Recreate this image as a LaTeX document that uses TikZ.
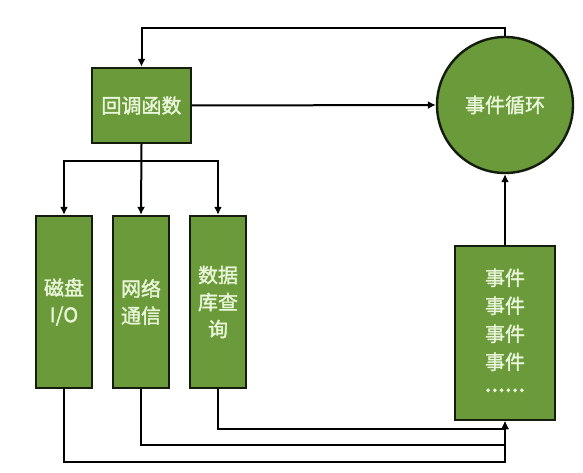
\documentclass[tikz,border=0pt]{standalone}
\usepackage{fontspec}
\setmainfont{Noto Sans CJK SC}[FakeBold=1.6]
\newfontfamily\dotsfont{Noto Sans CJK SC}[FakeBold=5]
\usetikzlibrary{arrows.meta}
\definecolor{gfill}{RGB}{106,154,58}
\definecolor{gtext}{RGB}{234,246,218}
\definecolor{edge}{RGB}{20,28,14}
\newcommand{\sixdots}{\raisebox{6pt}{\dotsfont .\kern1.2pt.\kern1.2pt.\kern1.2pt.\kern1.2pt.\kern1.2pt.}}
\begin{document}
\begin{tikzpicture}[x=1pt,y=-1pt,
  gbox/.style={draw=edge,line width=2.4pt,fill=gfill,text=gtext,inner sep=0pt,align=center,
    font=\fontsize{20}{27}\selectfont},
  arr/.style={draw=black,line width=2pt,-{Latex[length=8pt,width=8pt]}},
  ln/.style={draw=black,line width=2pt}]
\useasboundingbox (0,0) rectangle (583,473);
\fill[white] (0,0) rectangle (583,473);
\node[gbox,minimum width=99pt,minimum height=75pt] (cb) at (141.5,105.5) {回调函数};
\node[gbox,circle,minimum size=136pt] (loop) at (505,105) {事件循环};
\node[gbox,minimum width=56pt,minimum height=172pt] (b1) at (64,302) {磁盘\\I/O};
\node[gbox,minimum width=56pt,minimum height=172pt] (b2) at (141,302) {网络\\通信};
\node[gbox,minimum width=56pt,minimum height=172pt] (b3) at (218,302) {数据\\库查\\询};
\node[gbox,minimum width=100pt,minimum height=174pt,font=\fontsize{20}{28}\selectfont] (q) at (505,333) {事件\\事件\\事件\\事件\\\sixdots};
\coordinate (top) at (505,28);
\coordinate (br) at (141,161);
\coordinate (y1) at (0,462);
\coordinate (y2) at (0,445);
\coordinate (y3) at (0,429);
\draw[arr] (loop.north) -- (top) -| (cb.north);
\draw[arr] (cb.east) -- (loop.west);
\draw[arr] (cb.south) -- (b2.north);
\draw[arr] (br) -| (b1.north);
\draw[arr] (br) -| (b3.north);
\draw[arr] (b3.south) -- (b3.south |- y3) -| (q.south);
\draw[arr] (b2.south) -- (b2.south |- y2) -| (q.south);
\draw[arr] (b1.south) -- (b1.south |- y1) -| (q.south);
\draw[arr] (q.north) -- (loop.south);
\end{tikzpicture}
\end{document}
